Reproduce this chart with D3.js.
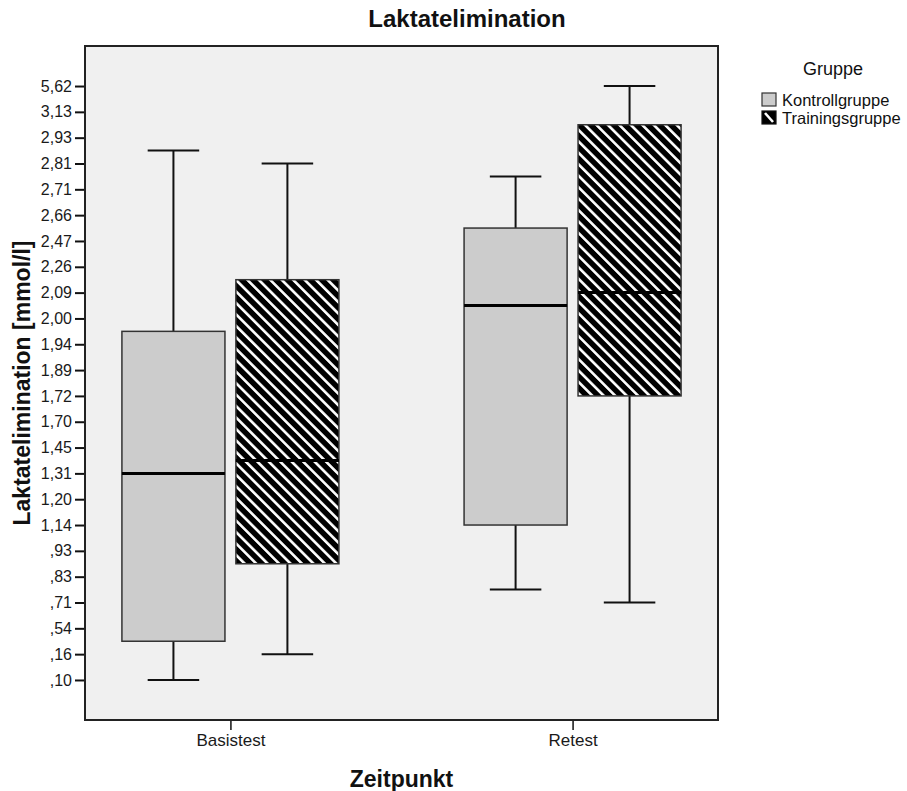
<!DOCTYPE html>
<html>
<head>
<meta charset="utf-8">
<script src="https://cdn.jsdelivr.net/npm/d3@7"></script>
<style>
  html, body { margin: 0; padding: 0; background: #fff; }
  svg text { font-family: "Liberation Sans", Arial, sans-serif; }
</style>
</head>
<body>
<svg id="chart" width="907" height="791"></svg>
<script>
// Observed lactate elimination values used as the ordinal axis levels (mmol/l)
const levelValues = [0.10, 0.16, 0.54, 0.71, 0.83, 0.93, 1.14, 1.20, 1.31, 1.45, 1.70, 1.72,
                     1.89, 1.94, 2.00, 2.09, 2.26, 2.47, 2.66, 2.71, 2.81, 2.93, 3.13, 5.62];
const levelLabels = [",10", ",16", ",54", ",71", ",83", ",93", "1,14", "1,20", "1,31", "1,45", "1,70", "1,72",
                     "1,89", "1,94", "2,00", "2,09", "2,26", "2,47", "2,66", "2,71", "2,81", "2,93", "3,13", "5,62"];

const timepoints = ["Basistest", "Retest"];
const groups = ["Kontrollgruppe", "Trainingsgruppe"];

// Box statistics per timepoint: [lower whisker, Q1, median, Q3, upper whisker]
const kontrollStats = [
  [0.10, 0.35, 1.31, 1.97, 2.87],
  [0.77, 1.14, 2.045, 2.565, 2.76]
];
const trainingStats = [
  [0.16, 0.88, 1.38, 2.175, 2.81],
  [0.71, 1.72, 2.09, 3.03, 5.62]
];

const svg = d3.select("#chart");
const plot = { left: 85, top: 46, right: 718, bottom: 720 };

// Pattern: white diagonal stripes on black
const defs = svg.append("defs");
const pat = defs.append("pattern")
  .attr("id", "hatch")
  .attr("patternUnits", "userSpaceOnUse")
  .attr("width", 8.1).attr("height", 8.1)
  .attr("patternTransform", "rotate(-45)");
pat.append("rect").attr("width", 8.1).attr("height", 8.1).attr("fill", "#000");
pat.append("rect").attr("x", 0).attr("width", 2.6).attr("height", 8.1).attr("fill", "#fff");

// Plot background
svg.append("rect")
  .attr("x", plot.left).attr("y", plot.top)
  .attr("width", plot.right - plot.left).attr("height", plot.bottom - plot.top)
  .attr("fill", "#f0f0f0");

// Scales: levels are equally spaced (ordinal), values between levels interpolate
const idx = d3.scaleLinear().domain([-1.55, 24.55]).range([plot.bottom, plot.top]);
const y = d3.scaleLinear()
  .domain(levelValues)
  .range(levelValues.map((_, i) => idx(i)));

const x = d3.scalePoint().domain(timepoints).range([plot.left, plot.right]).padding(0.425);
const xg = d3.scaleBand().domain(groups).range([-108.5, 108.5]).paddingInner(0.096);

// Y axis
const yAxis = svg.append("g")
  .attr("transform", `translate(${plot.left},0)`)
  .call(d3.axisLeft(y).tickValues(levelValues)
    .tickFormat((d, i) => levelLabels[i]).tickSize(10).tickPadding(3));
yAxis.select(".domain").remove();
yAxis.selectAll(".tick line").attr("stroke", "#111").attr("stroke-width", 2);
yAxis.selectAll(".tick text")
  .attr("fill", "#1a1a1a").style("font-size", "16px")
  .style("font-family", "'Liberation Sans', Arial, sans-serif");

// X axis
const xAxis = svg.append("g")
  .attr("transform", `translate(0,${plot.bottom})`)
  .call(d3.axisBottom(x).tickSize(10).tickPadding(4));
xAxis.select(".domain").remove();
xAxis.selectAll(".tick line").attr("stroke", "#111").attr("stroke-width", 1.5);
xAxis.selectAll(".tick text")
  .attr("fill", "#1a1a1a").style("font-size", "17px")
  .style("font-family", "'Liberation Sans', Arial, sans-serif");

// Boxes
const series = [
  { group: groups[0], stats: kontrollStats, fill: "#cccccc" },
  { group: groups[1], stats: trainingStats, fill: "url(#hatch)" }
];

const boxes = [];
series.forEach(s => {
  timepoints.forEach((t, ti) => {
    boxes.push({ group: s.group, time: t, stats: s.stats[ti], fill: s.fill });
  });
});

const bw = xg.bandwidth();
const g = svg.append("g");
boxes.forEach(b => {
  const x0 = x(b.time) + xg(b.group);
  const cx = x0 + bw / 2;
  const [lo, q1, med, q3, hi] = b.stats;
  const cap = bw / 4;
  // whiskers
  g.append("line").attr("x1", cx).attr("x2", cx).attr("y1", y(hi)).attr("y2", y(q3))
    .attr("stroke", "#111").attr("stroke-width", 2);
  g.append("line").attr("x1", cx).attr("x2", cx).attr("y1", y(q1)).attr("y2", y(lo))
    .attr("stroke", "#111").attr("stroke-width", 2);
  g.append("line").attr("x1", cx - cap).attr("x2", cx + cap).attr("y1", y(hi)).attr("y2", y(hi))
    .attr("stroke", "#111").attr("stroke-width", 2);
  g.append("line").attr("x1", cx - cap).attr("x2", cx + cap).attr("y1", y(lo)).attr("y2", y(lo))
    .attr("stroke", "#111").attr("stroke-width", 2);
  // box
  g.append("rect").attr("x", x0).attr("y", y(q3))
    .attr("width", bw).attr("height", y(q1) - y(q3))
    .attr("fill", b.fill).attr("stroke", "#333").attr("stroke-width", 1.5);
  // median
  g.append("line").attr("x1", x0).attr("x2", x0 + bw).attr("y1", y(med)).attr("y2", y(med))
    .attr("stroke", "#000").attr("stroke-width", 3);
});

// Frame border on top
svg.append("rect")
  .attr("x", plot.left).attr("y", plot.top)
  .attr("width", plot.right - plot.left).attr("height", plot.bottom - plot.top)
  .attr("fill", "none").attr("stroke", "#222").attr("stroke-width", 2);

// Titles
svg.append("text").attr("x", 467).attr("y", 27).attr("text-anchor", "middle")
  .style("font-size", "24px").style("font-weight", "bold").attr("fill", "#111")
  .text("Laktatelimination");

svg.append("text").attr("x", (plot.left + plot.right) / 2).attr("y", 787).attr("text-anchor", "middle")
  .style("font-size", "23px").style("font-weight", "bold").attr("fill", "#111")
  .text("Zeitpunkt");

svg.append("text")
  .attr("transform", `translate(30,${(plot.top + plot.bottom) / 2}) rotate(-90)`)
  .attr("text-anchor", "middle")
  .style("font-size", "23px").style("font-weight", "bold").attr("fill", "#111")
  .text("Laktatelimination [mmol/l]");

// Legend
const leg = svg.append("g");
leg.append("text").attr("x", 833).attr("y", 75).attr("text-anchor", "middle")
  .style("font-size", "18px").attr("fill", "#111").text("Gruppe");

groups.forEach((name, i) => {
  const ly = 93 + i * 18;
  if (i === 0) {
    leg.append("rect").attr("x", 762).attr("y", ly).attr("width", 14).attr("height", 13)
      .attr("fill", "#cccccc").attr("stroke", "#333").attr("stroke-width", 1.2);
  } else {
    leg.append("rect").attr("x", 762).attr("y", ly).attr("width", 14).attr("height", 13)
      .attr("fill", "#000").attr("stroke", "#111").attr("stroke-width", 1.2);
    leg.append("line").attr("x1", 765).attr("y1", ly + 2).attr("x2", 773).attr("y2", ly + 11)
      .attr("stroke", "#fff").attr("stroke-width", 2.6);
  }
  leg.append("text").attr("x", 782).attr("y", ly + 13)
    .style("font-size", "16.5px").attr("fill", "#111").text(name);
});
</script>
</body>
</html>
